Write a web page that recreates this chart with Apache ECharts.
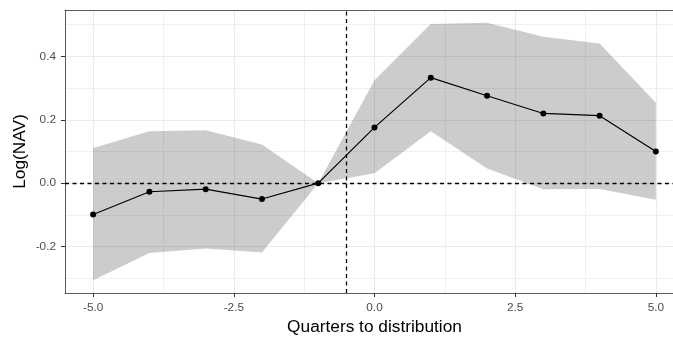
<!DOCTYPE html>
<html><head><meta charset="utf-8">
<script src="https://cdn.jsdelivr.net/npm/echarts@6/dist/echarts.min.js"></script>
<style>html,body{margin:0;padding:0;background:#fff}#c{width:673px;height:339px}</style>
</head><body><div id="c"></div>
<script>
const quarters = [-5,-4,-3,-2,-1,0,1,2,3,4,5];
const estimate = [-0.099,-0.027,-0.019,-0.050,0,0.176,0.333,0.276,0.220,0.213,0.100];
const upper = [0.111,0.164,0.167,0.122,0,0.325,0.502,0.506,0.462,0.441,0.254];
const lower = [-0.306,-0.220,-0.206,-0.219,0,0.031,0.164,0.046,-0.019,-0.018,-0.052];
const xMajorTicks = [-5,-2.5,0,2.5,5];
const xMinorTicks = [-3.75,-1.25,1.25,3.75];
const yMajorTicks = [-0.2,0,0.2,0.4];
const yMinorTicks = [-0.3,-0.1,0.1,0.3,0.5];
const distributionLine = -0.5;
const zeroLine = 0;
const xRange = [-5.5, 5.5];
const yRange = [-0.3465, 0.5465];

const font = 'Liberation Sans';
const borderColor = '#5a5a5a';
const chart = echarts.init(document.getElementById('c'), null, {renderer: 'canvas'});
const fmt = v => (Math.abs(v) < 1e-9 ? 0 : v).toFixed(1);

function bandItem(params, api) {
  if (params.dataIndexInside !== 0) return null;
  const n = params.dataInsideLength;
  const top = [], bot = [];
  for (let i = 0; i < n; i++) {
    const x = api.value(0, i);
    top.push(api.coord([x, api.value(2, i)]));
    bot.push(api.coord([x, api.value(1, i)]));
  }
  return {type: 'polygon', shape: {points: top.concat(bot.reverse())},
          style: {fill: 'rgba(0,0,0,0.2)', stroke: null}, silent: true};
}

const option = {
  animation: false,
  grid: {left: 65, top: 10, width: 619, height: 283, outerBoundsMode: 'none', containLabel: false, show: false},
  xAxis: [
    {type: 'value', min: xRange[0], max: xRange[1], position: 'bottom',
     name: 'Quarters to distribution', nameLocation: 'middle', nameGap: 26, nameMoveOverlap: false,
     nameTextStyle: {fontFamily: font, fontSize: 17.3, color: '#000'},
     axisLine: {show: true, onZero: false, lineStyle: {color: borderColor, width: 1}},
     axisTick: {show: true, customValues: xMajorTicks, length: 4, lineStyle: {color: '#333'}},
     axisLabel: {show: true, customValues: xMajorTicks, formatter: fmt, fontFamily: font, fontSize: 11.8, color: '#4D4D4D', margin: 9},
     splitLine: {show: true, lineStyle: {color: '#EBEBEB', width: 1}}},
    {type: 'value', min: xRange[0], max: xRange[1], position: 'top',
     axisLine: {show: true, onZero: false, lineStyle: {color: borderColor, width: 1}},
     axisTick: {show: false, customValues: xMinorTicks},
     axisLabel: {show: false, customValues: xMinorTicks},
     splitLine: {show: true, lineStyle: {color: '#F0F0F0', width: 1}}}
  ],
  yAxis: [
    {type: 'value', min: yRange[0], max: yRange[1], position: 'left',
     name: 'Log(NAV)', nameLocation: 'middle', nameGap: 36, nameMoveOverlap: false,
     nameTextStyle: {fontFamily: font, fontSize: 17.3, color: '#000'},
     axisLine: {show: true, onZero: false, lineStyle: {color: borderColor, width: 1}},
     axisTick: {show: true, customValues: yMajorTicks, length: 4, lineStyle: {color: '#333'}},
     axisLabel: {show: true, customValues: yMajorTicks, formatter: fmt, fontFamily: font, fontSize: 11.8, color: '#4D4D4D', margin: 9},
     splitLine: {show: true, lineStyle: {color: '#EBEBEB', width: 1}}},
    {type: 'value', min: yRange[0], max: yRange[1], position: 'right',
     axisLine: {show: false, onZero: false}, axisTick: {show: false, customValues: yMinorTicks},
     axisLabel: {show: false, customValues: yMinorTicks},
     splitLine: {show: true, lineStyle: {color: '#F0F0F0', width: 1}}}
  ],
  series: [
    {type: 'custom', name: 'band', renderItem: bandItem, clip: true, z: 1,
     encode: {x: 0, y: [1, 2]},
     data: quarters.map((q, i) => [q, lower[i], upper[i]])},
    {type: 'line', name: 'estimate',
     data: quarters.map((q, i) => [q, estimate[i]]),
     symbol: 'circle', symbolSize: 6, showSymbol: true,
     itemStyle: {color: '#000'}, lineStyle: {color: '#000', width: 1.2}, z: 3,
     markLine: {silent: true, symbol: 'none', label: {show: false},
       lineStyle: {color: '#000', type: [4, 3.5], width: 1.3},
       data: [{xAxis: distributionLine}, {yAxis: zeroLine}]}}
  ]
};
chart.setOption(option);
</script>
</body></html>
